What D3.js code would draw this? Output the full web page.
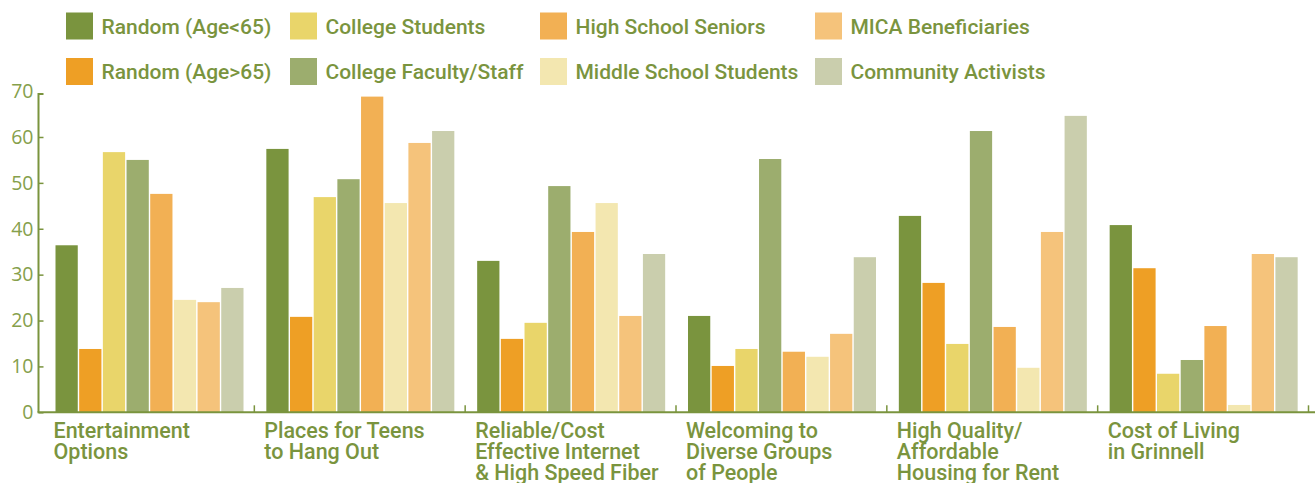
<!DOCTYPE html>
<meta charset="utf-8">
<head>
<style>
  body { margin: 0; background: #fff; }
  .legend text { font: 500 21px Roboto, sans-serif; fill: #7a943e; }
  .cat text { font: 500 21.5px Roboto, sans-serif; fill: #7a943e; }
  .yaxis text { font: 19.5px "Open Sans", sans-serif; fill: #86a04b; }
</style>
</head>
<body>
<script src="https://cdnjs.cloudflare.com/ajax/libs/d3/7.8.5/d3.min.js"></script>
<script>
var categories = ["Entertainment Options", "Places for Teens to Hang Out", "Reliable/Cost Effective Internet & High Speed Fiber",
                  "Welcoming to Diverse Groups of People", "High Quality/Affordable Housing for Rent", "Cost of Living in Grinnell"];
var categoryLines = [["Entertainment", "Options"], ["Places for Teens", "to Hang Out"], ["Reliable/Cost", "Effective Internet", "& High Speed Fiber"],
                     ["Welcoming to", "Diverse Groups", "of People"], ["High Quality/", "Affordable", "Housing for Rent"], ["Cost of Living", "in Grinnell"]];
var series = ["Random (Age<65)", "Random (Age>65)", "College Students", "College Faculty/Staff",
              "High School Seniors", "Middle School Students", "MICA Beneficiaries", "Community Activists"];
var colors = ["#7a943e", "#ee9f25", "#e9d56a", "#9cad6e", "#f2b054", "#f3e7b0", "#f5c37b", "#cacead"];
// one row per series, one value per category
var values = [
  [36.4, 57.4, 33.0, 21.0, 42.8, 40.8],
  [13.8, 20.8, 16.0, 10.1, 28.2, 31.4],
  [56.7, 46.9, 19.5, 13.8, 14.9, 8.4],
  [55.0, 50.8, 49.3, 55.2, 61.3, 11.4],
  [47.6, 68.8, 39.3, 13.2, 18.6, 18.8],
  [24.5, 45.6, 45.6, 12.1, 9.7, 1.6],
  [24.0, 58.7, 21.0, 17.1, 39.3, 34.5],
  [27.1, 61.3, 34.5, 33.8, 64.6, 33.8]
];
var yTicks = [0, 10, 20, 30, 40, 50, 60, 70];

var W = 1315, H = 483;
var green = "#7a943e";

var svg = d3.select("body").append("svg").attr("width", W).attr("height", H);

var x0 = d3.scaleBand().domain(categories).range([43.5, 1308.5]);
var x1 = d3.scaleBand().domain(series).range([12, 200]).paddingInner(0.06);
var y = d3.scaleLinear().domain([0, 70]).range([412.3, 91.1]);

// bars
var groups = svg.selectAll("g.grp")
    .data(categories)
    .enter().append("g")
    .attr("class", "grp")
    .attr("transform", function(c) { return "translate(" + x0(c) + ",0)"; });

groups.selectAll("rect")
    .data(function(c, ci) { return series.map(function(s, si) { return {s: s, v: values[si][ci], i: si}; }); })
    .enter().append("rect")
    .attr("x", function(d) { return x1(d.s); })
    .attr("y", function(d) { return y(d.v); })
    .attr("width", x1.bandwidth())
    .attr("height", function(d) { return y(0) - y(d.v); })
    .attr("fill", function(d) { return colors[d.i]; });

// y axis
var yAxis = svg.append("g")
    .attr("class", "yaxis")
    .attr("transform", "translate(38.5,0)")
    .call(d3.axisLeft(y).tickValues(yTicks).tickSize(-5).tickSizeOuter(0).tickPadding(5));
yAxis.selectAll("line").attr("stroke", green).attr("stroke-width", 1.5);
yAxis.select(".domain").attr("stroke", green).attr("stroke-width", 2)
    .attr("d", "M0," + y(0) + "V94H5");
yAxis.selectAll(".tick").filter(function(d) { return d === 70; }).select("line").remove();

// x axis line and group separators
svg.append("line")
    .attr("x1", 37.5).attr("x2", W)
    .attr("y1", y(0)).attr("y2", y(0))
    .attr("stroke", green).attr("stroke-width", 2);
svg.selectAll("line.sep")
    .data(categories.slice(1).map(function(c) { return x0(c); }).concat([x0.range()[1]]))
    .enter().append("line")
    .attr("class", "sep")
    .attr("x1", function(d) { return d; }).attr("x2", function(d) { return d; })
    .attr("y1", y(0)).attr("y2", y(0) - 7)
    .attr("stroke", green).attr("stroke-width", 1.5);

// category labels
var cat = svg.append("g").attr("class", "cat");
cat.selectAll("text")
    .data(categories)
    .enter().append("text")
    .attr("x", function(c) { return x0(c) + 10; })
    .attr("y", 437.5)
    .each(function(c, i) {
        var t = d3.select(this);
        categoryLines[i].forEach(function(line, k) {
            t.append("tspan").attr("x", x0(c) + 10).attr("y", 437.5 + k * 21).text(line);
        });
    });

// legend
var legendCols = [66, 290, 540, 815];
var legendRows = [12.5, 58];
var legend = svg.append("g").attr("class", "legend");
var items = legend.selectAll("g")
    .data(series)
    .enter().append("g")
    .attr("transform", function(s, i) {
        return "translate(" + legendCols[Math.floor(i / 2)] + "," + legendRows[i % 2] + ")";
    });
items.append("rect")
    .attr("width", 27).attr("height", 27)
    .attr("fill", function(s, i) { return colors[i]; });
items.append("text")
    .attr("x", 35.5).attr("y", 21.3)
    .text(function(s) { return s; });
</script>
</body>
